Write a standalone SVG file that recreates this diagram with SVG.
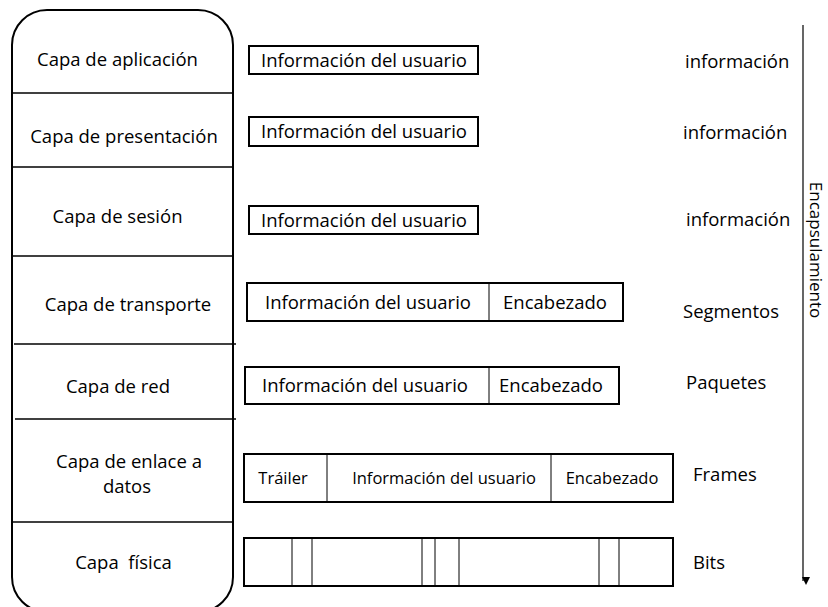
<svg xmlns="http://www.w3.org/2000/svg" width="828" height="607" viewBox="0 0 828 607">
  <style>
    text { font-family: "Open Sans", "Noto Sans", "Liberation Sans", sans-serif; font-size: 18.5px; fill: #000; }
    .mid { text-anchor: middle; }
    .small { font-size: 16.5px; }
    .frame { fill: #fff; stroke: #000; stroke-width: 2; }
    .sep { stroke: #000; stroke-width: 1.5; fill: none; }
    .cell { stroke: #000; stroke-width: 1; fill: none; }
    .axis { stroke: #000; stroke-width: 1.2; fill: none; }
  </style>
  <defs>
    <marker id="arrowHead" markerWidth="8" markerHeight="8" refX="4" refY="7" orient="auto" markerUnits="userSpaceOnUse" viewBox="0 0 8 8">
      <path d="M0,0 L8,0 L4,8 Z" transform="rotate(-90 4 4)" fill="#000"/>
    </marker>
  </defs>
  <rect width="828" height="607" fill="#fff"/>

  <!-- OSI layer stack -->
  <g id="stack">
    <rect class="frame" x="12" y="10" width="221" height="602" rx="35" ry="35"/>
    <line class="sep" x1="12" y1="93" x2="233" y2="93"/>
    <line class="sep" x1="12" y1="167" x2="233" y2="167"/>
    <line class="sep" x1="12" y1="256" x2="233" y2="256"/>
    <line class="sep" x1="14" y1="344" x2="236" y2="344"/>
    <line class="sep" x1="15" y1="419" x2="236" y2="419"/>
    <line class="sep" x1="12" y1="522" x2="232" y2="522"/>
  </g>
  <g id="layer-app"><text class="mid" x="117.5" y="66">Capa de aplicación</text></g>
  <g id="layer-pres"><text class="mid" x="124" y="143">Capa de presentación</text></g>
  <g id="layer-ses"><text class="mid" x="117.5" y="223">Capa de sesión</text></g>
  <g id="layer-trans"><text class="mid" x="128" y="311">Capa de transporte</text></g>
  <g id="layer-red"><text class="mid" x="118" y="393">Capa de red</text></g>
  <g id="layer-link">
    <text class="mid" x="129" y="468">Capa de enlace a</text>
    <text class="mid" x="127" y="493">datos</text>
  </g>
  <g id="layer-phys"><text class="mid" x="123.5" y="569" xml:space="preserve">Capa  física</text></g>

  <!-- data units per layer -->
  <g id="pdu-app">
    <rect class="frame" x="249" y="46" width="229" height="28"/>
    <text class="mid" x="364" y="67">Información del usuario</text>
  </g>
  <g id="pdu-pres">
    <rect class="frame" x="249" y="117" width="229" height="29"/>
    <text class="mid" x="364" y="138">Información del usuario</text>
  </g>
  <g id="pdu-ses">
    <rect class="frame" x="249" y="206" width="229" height="28"/>
    <text class="mid" x="364" y="227">Información del usuario</text>
  </g>
  <g id="pdu-trans">
    <rect class="frame" x="247" y="283" width="376" height="38"/>
    <line class="cell" x1="489" y1="283" x2="489" y2="321"/>
    <text class="mid" x="368" y="309">Información del usuario</text>
    <text class="mid" x="555" y="309">Encabezado</text>
  </g>
  <g id="pdu-red">
    <rect class="frame" x="245" y="367" width="374" height="37"/>
    <line class="cell" x1="489" y1="367" x2="489" y2="404"/>
    <text class="mid" x="365" y="392">Información del usuario</text>
    <text class="mid" x="551" y="392">Encabezado</text>
  </g>
  <g id="pdu-link">
    <rect class="frame" x="244" y="454" width="429" height="48"/>
    <line class="cell" x1="327" y1="454" x2="327" y2="502"/>
    <line class="cell" x1="551" y1="454" x2="551" y2="502"/>
    <text class="mid small" x="283" y="484">Tráiler</text>
    <text class="mid small" x="444" y="484">Información del usuario</text>
    <text class="mid small" x="612" y="484">Encabezado</text>
  </g>
  <g id="pdu-phys">
    <rect class="frame" x="244" y="538" width="429" height="48"/>
    <line class="cell" x1="292" y1="538" x2="292" y2="586"/>
    <line class="cell" x1="312" y1="538" x2="312" y2="586"/>
    <line class="cell" x1="422" y1="538" x2="422" y2="586"/>
    <line class="cell" x1="435" y1="538" x2="435" y2="586"/>
    <line class="cell" x1="459" y1="538" x2="459" y2="586"/>
    <line class="cell" x1="599" y1="538" x2="599" y2="586"/>
    <line class="cell" x1="619" y1="538" x2="619" y2="586"/>
  </g>

  <!-- unit names -->
  <g id="names">
    <text x="685" y="68">información</text>
    <text x="683" y="139">información</text>
    <text x="686" y="226">información</text>
    <text x="683" y="318">Segmentos</text>
    <text x="686" y="389">Paquetes</text>
    <text x="693" y="481">Frames</text>
    <text x="693" y="569">Bits</text>
  </g>

  <!-- encapsulation direction -->
  <g id="connectors">
    <line class="axis" x1="803" y1="25" x2="803" y2="581" marker-end="url(#arrowHead)"/>
  </g>
  <g id="encapsulation-label">
    <text class="mid" style="font-size:17px" transform="translate(810 250) rotate(90)">Encapsulamiento</text>
  </g>
</svg>
